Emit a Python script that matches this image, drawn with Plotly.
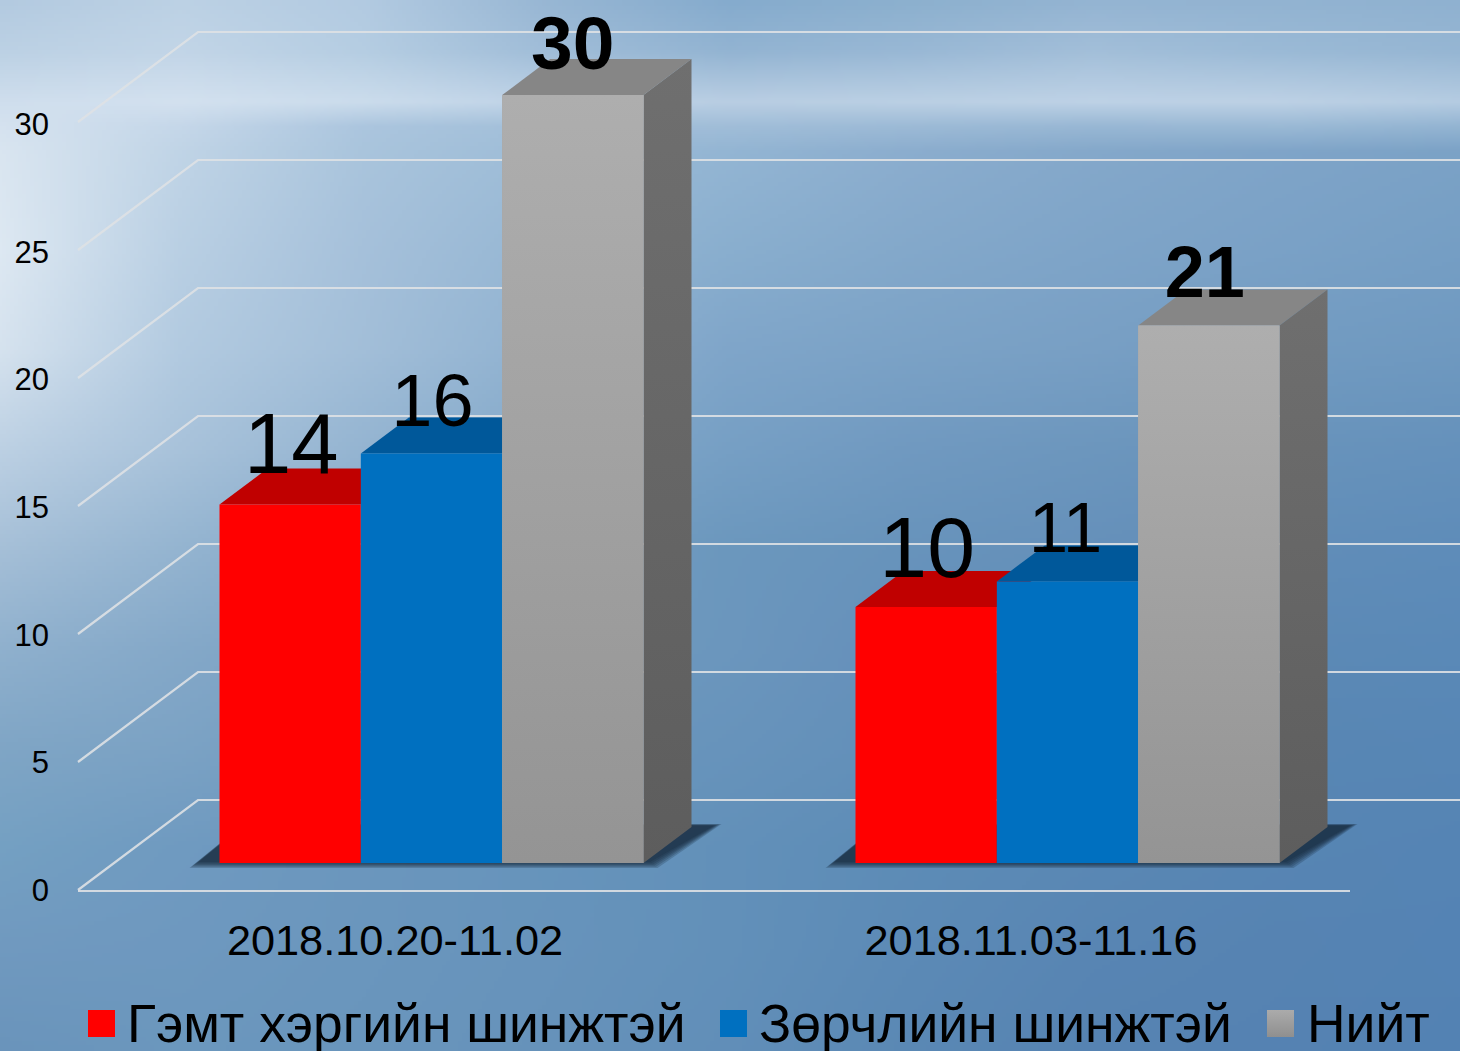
import base64, struct, zlib
import numpy as np
import plotly.graph_objects as go

# ---------- data ----------
categories = ["2018.10.20-11.02", "2018.11.03-11.16"]
series_names = ["Гэмт хэргийн шинжтэй", "Зөрчлийн шинжтэй", "Нийт"]
crime_values = [14, 10]
violation_values = [16, 11]
total_values = [30, 21]
y_ticks = [0, 5, 10, 15, 20, 25, 30]

# ---------- style ----------
W, H = 1460, 1051
FONT = "Liberation Sans"
front_colors = ["#ff0000", "#0070c0", "#a3a3a3"]
top_colors = ["#c00000", "#00589a", "#868686"]
label_sizes = [[85, 86], [74, 71], [75, 72]]
label_lift = [[53, 52], [46, 47], [45, 46]]
label_nudge = [[1, 1], [1, -2], [0, -4]]
legend_swatch_px = [88, 720, 1267]
legend_text_px = [127, 759, 1307]
legend_text_drop = 5

PX_PER_CAT = 636.0
PX_PER_VAL = 25.6
ZERO_X, ZERO_Y = 431.5, 863.0
BAR_PX = 141.33
DEPTH_X, DEPTH_Y = 48.0, 36.0


def ux(px):
    return px / PX_PER_CAT


def uy(px):
    return px / PX_PER_VAL


x_range = [ux(0 - ZERO_X), ux(W - ZERO_X)]
y_range = [uy(ZERO_Y - H), uy(ZERO_Y)]

# ---------- background picture (hand-read colours) ----------
bg_x = [0, 180, 365, 550, 730, 910, 1095, 1280, 1460]
bg_y = [0, 50, 100, 125, 150, 250, 350, 450, 550, 650, 750, 850, 950, 1051]
bg_hex = [
    "b3cae0 bcd1e4 b2cae1 97b6d3 85abcd 8cb0ce 94b4d2 92b3d1 8fb1d0",
    "bcd1e4 c2d5e7 b5cde2 a0bdd8 93b4d2 99b8d5 a3bfd9 9bbad6 96b6d3",
    "cfdeed d3e1ef cbdcec bfd3e7 b9cee3 bbd0e4 bed2e6 bdd1e5 b5cce2",
    "d5e2ef c5d7e9 abc5de a2bfd9 a0bdd8 9cbad6 98b7d4 9ab9d5 93b4d2",
    "d9e5f0 c0d4e6 a9c4dc 9dbcd7 93b5d3 8badce 84a8ca 7fa4c8 7ba2c6",
    "dde8f2 b9cfe3 a5c0da 95b6d3 89aece 83a8ca 7ea4c8 7aa1c6 759ec4",
    "d5e2ee b2cae0 a2bed8 8fb1d0 7fa5c9 7ba2c6 789fc4 729bc1 6f99c0",
    "bcd0e3 a8c2da 94b4d1 82a8c9 769fc4 7099c0 6c96bd 6893bb 6591bb",
    "a5bfd7 94b4d0 82a7c8 749ec1 6b97bd 6793bb 6590ba 618db8 5e8cb9",
    "8fb0cd 84a8c8 7aa1c4 6f9abf 6b96bd 658fba 5f8cb7 5c89b5 5a89b7",
    "7fa5c5 7ba2c4 739cc0 6a97bc 6793bb 628fb9 5c8ab6 5886b3 5786b5",
    "74a0c2 6f9ac0 6b96bd 6694bb 6290b9 5d8cb6 5a88b4 5785b3 5584b4",
    "7099bf 6e98bf 6a96bd 6793bb 6290b9 5c8ab6 5885b3 5683b2 5483b4",
    "6a94bb 6b97bd 6995bc 6692ba 618eb8 5a88b4 5683b2 5582b2 5382b3",
]


def background_uri():
    grid = np.array([[[int(c[i:i + 2], 16) for i in (0, 2, 4)] for c in row.split()]
                     for row in bg_hex], dtype=float)
    xs = np.linspace(0, W, 365)
    ys = np.linspace(0, H, 263)
    by_x = np.stack([np.stack([np.interp(xs, bg_x, grid[r, :, ch]) for ch in range(3)], axis=1)
                     for r in range(len(bg_y))])
    img = np.stack([np.stack([np.interp(ys, bg_y, by_x[:, c, ch]) for ch in range(3)], axis=1)
                    for c in range(len(xs))], axis=1).round().astype(np.uint8)
    raw = b"".join(b"\x00" + row.tobytes() for row in img)

    def chunk(tag, payload):
        body = tag + payload
        return struct.pack(">I", len(payload)) + body + struct.pack(">I", zlib.crc32(body))

    png = b"\x89PNG\r\n\x1a\n" + chunk(b"IHDR", struct.pack(">IIBBBBB", img.shape[1], img.shape[0], 8, 2, 0, 0, 0)) \
        + chunk(b"IDAT", zlib.compress(raw)) + chunk(b"IEND", b"")
    return "data:image/png;base64," + base64.b64encode(png).decode()


fig = go.Figure()

# ---------- back wall + side wall grid (base subplot, under the bars) ----------
wall_front_x = ux(78 - ZERO_X)
wall_back_x = ux(198 - ZERO_X)
wall_end_x = x_range[1]
floor_lift = uy(ZERO_Y - 890)
wall_lift = uy(90)
for v in y_ticks:
    y0 = v + floor_lift
    fig.add_trace(go.Scatter(
        x=[wall_front_x, wall_back_x, wall_end_x], y=[y0, y0 + wall_lift, y0 + wall_lift],
        mode="lines", line=dict(color="rgba(222,225,228,0.9)", width=2.2),
        hoverinfo="skip", showlegend=False))

# ---------- shadows, tops and sides of the bars ----------
bar_w = ux(BAR_PX)
dx, dy = ux(DEPTH_X), uy(DEPTH_Y)
for g, cat in enumerate(categories):
    left = g - 1.5 * bar_w
    right = g + 1.5 * bar_w
    for grow in (5, 3.5, 2, 0.5, -1, -2.5):
        fig.add_trace(go.Scatter(
            x=[left + ux(-24 - grow * 1.2), right + ux(9 + grow), right + ux(73 + grow), left + ux(24)],
            y=[uy(-1 - grow * 0.8), uy(-1 - grow * 0.8), uy(38 + grow * 0.2), uy(38 + grow * 0.2)],
            mode="lines", fill="toself", line=dict(width=0), fillcolor="rgba(20,36,56,0.22)",
            hoverinfo="skip", showlegend=False))

all_values = [crime_values, violation_values, total_values]
for s, values in enumerate(all_values):
    for g, v in enumerate(values):
        left = g + (s - 1.5) * bar_w
        right = left + bar_w
        fig.add_trace(go.Scatter(
            x=[left, right, right + dx, left + dx, left], y=[v, v, v + dy, v + dy, v],
            mode="lines", fill="toself", line=dict(width=0), fillcolor=top_colors[s],
            hoverinfo="skip", showlegend=False))
for g, v in enumerate(total_values):
    right = g + 1.5 * bar_w
    fig.add_trace(go.Scatter(
        x=[right, right + dx, right + dx, right, right], y=[0, dy, v + dy, v, 0],
        mode="lines", fill="toself", line=dict(width=0),
        fillgradient=dict(type="vertical", colorscale=[[0, "#5d5d5d"], [1, "#6f6f6f"]]),
        hoverinfo="skip", showlegend=False))

# ---------- front faces (overlay subplot) ----------
for s, values in enumerate(all_values):
    fig.add_trace(go.Bar(x=[0, 1], y=values, name=series_names[s], xaxis="x3", yaxis="y3",
                         marker=dict(color=front_colors[s], line=dict(width=0)), showlegend=False))
for g, v in enumerate(total_values):
    left = g + 0.5 * bar_w
    fig.add_trace(go.Scatter(
        x=[left, left + bar_w, left + bar_w, left, left], y=[0, 0, v, v, 0], xaxis="x3", yaxis="y3",
        mode="lines", fill="toself", line=dict(width=0),
        fillgradient=dict(type="vertical", colorscale=[[0, "#949494"], [1, "#aeaeae"]]),
        hoverinfo="skip", showlegend=False))

# ---------- value labels ----------
for s, values in enumerate(all_values):
    fig.add_trace(go.Scatter(
        x=[g + (s - 1) * bar_w + ux(label_nudge[s][g]) for g in range(len(values))],
        y=[v + uy(label_lift[s][g]) for g, v in enumerate(values)],
        text=[str(v) for v in values], mode="text", textposition="middle center", xaxis="x3", yaxis="y3",
        textfont=dict(family=FONT, size=label_sizes[s], color="#000000",
                      weight="bold" if s == 2 else "normal"),
        hoverinfo="skip", showlegend=False))

# ---------- legend row ----------
legend_y = uy(ZERO_Y - 1023.5)
fig.add_trace(go.Scatter(
    x=[ux(p + 13.5 - ZERO_X) for p in legend_swatch_px[:2]], y=[legend_y] * 2, mode="markers",
    marker=dict(symbol="square", size=27, color=front_colors[:2], line=dict(width=0)),
    xaxis="x3", yaxis="y3", hoverinfo="skip", showlegend=False))
fig.add_trace(go.Scatter(
    x=[ux(legend_swatch_px[2] + 13.5 - ZERO_X)], y=[legend_y], mode="markers",
    marker=dict(symbol="square", size=27, color="#ababab", line=dict(width=0),
                gradient=dict(type="vertical", color="#8f8f8f")),
    xaxis="x3", yaxis="y3", hoverinfo="skip", showlegend=False))
fig.add_trace(go.Scatter(
    x=[ux(p - ZERO_X) for p in legend_text_px], y=[legend_y - uy(legend_text_drop)] * 3, text=series_names,
    mode="text", textposition="middle right",
    textfont=dict(family=FONT, size=53.4, color="#000000"),
    xaxis="x3", yaxis="y3", hoverinfo="skip", showlegend=False))

# ---------- subplot that only carries the axis labels ----------
fig.add_trace(go.Scatter(x=[0, 1], y=[0, 30], mode="markers", marker=dict(opacity=0), xaxis="x2", yaxis="y2",
                         hoverinfo="skip", showlegend=False))

hidden = dict(visible=False, fixedrange=True)
fig.update_layout(
    width=W, height=H, autosize=False,
    margin=dict(l=0, r=0, t=0, b=0, pad=0, autoexpand=False),
    paper_bgcolor="rgba(0,0,0,0)", plot_bgcolor="rgba(0,0,0,0)",
    font=dict(family=FONT, color="#000000"),
    barmode="group", bargap=1 / 3, bargroupgap=0,
    images=[dict(source=background_uri(), xref="paper", yref="paper", x=0, y=1, sizex=1, sizey=1,
                 sizing="stretch", xanchor="left", yanchor="top", layer="below")],
    xaxis=dict(range=x_range, domain=[0, 1], **hidden),
    yaxis=dict(range=y_range, domain=[0, 1], **hidden),
    xaxis3=dict(range=x_range, overlaying="x", **hidden),
    yaxis3=dict(range=y_range, overlaying="y", **hidden),
    xaxis2=dict(domain=[78 / W, 1350 / W], range=[(78 - 395) / PX_PER_CAT, (1350 - 395) / PX_PER_CAT],
                anchor="y2", tickmode="array", tickvals=[0, 1], ticktext=categories, ticks="",
                ticklabelstandoff=11, tickfont=dict(size=43.3, family=FONT, color="#000000"),
                showline=True, linecolor="rgba(222,225,228,0.9)", linewidth=2.2, showgrid=False,
                zeroline=False, fixedrange=True),
    yaxis2=dict(domain=[(H - 890) / H, (H - 124) / H], range=[0, 30], anchor="x2",
                tickmode="array", tickvals=y_ticks, ticks="", ticklabelstandoff=28,
                tickfont=dict(size=31, family=FONT, color="#000000"),
                showline=False, showgrid=False, zeroline=False, fixedrange=True),
    showlegend=False,
)

fig.write_html("out.html", config=dict(displayModeBar=False),
               post_script="document.body.style.margin='0';document.body.style.overflow='hidden';")
